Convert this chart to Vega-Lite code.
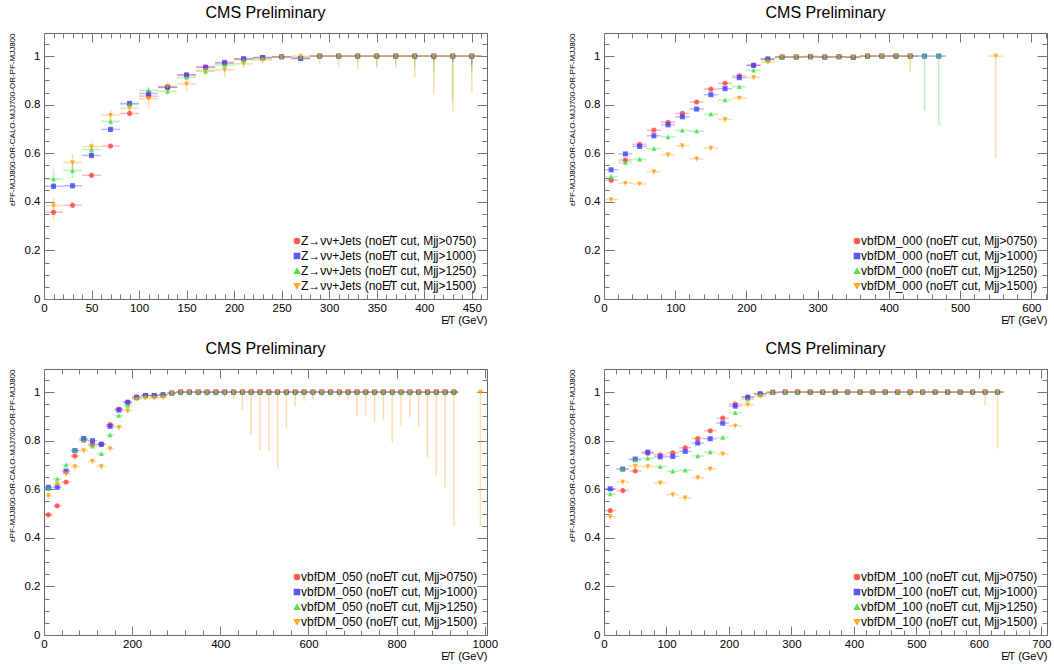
{
"$schema":"https://vega.github.io/schema/vega-lite/v6.json",
"background":"white",
"padding":{"left":7,"top":4,"right":0,"bottom":0},
"config":{
 "view":{"stroke":"#666","strokeWidth":1},
 "axis":{"domain":false,"grid":false,"labelFont":"Liberation Sans","labelFontSize":11.5,"labelColor":"#000","tickColor":"#777","tickWidth":1,"titleFont":"Liberation Sans","titleFontWeight":"normal","titleColor":"#000","labelFlush":false},
 "title":{"font":"Liberation Sans","fontSize":16,"fontWeight":"normal","color":"#000","offset":12},
 "legend":{"labelFont":"Liberation Sans","labelFontSize":12,"labelColor":"#000","symbolSize":26,"rowPadding":3,"labelOffset":-2,"symbolOpacity":0.85,"labelLimit":0,"padding":0,"orient":"none"}
},
"datasets":{
"p1":[
{"m":"0750","x":10,"x0":0,"x1":20,"y":0.357,"lo":0.345,"hi":0.369},
{"m":"1000","x":10,"x0":0,"x1":20,"y":0.464,"lo":0.452,"hi":0.476},
{"m":"1250","x":10,"x0":0,"x1":20,"y":0.494,"lo":0.453,"hi":0.535},
{"m":"1500","x":10,"x0":0,"x1":20,"y":0.384,"lo":0.325,"hi":0.415},
{"m":"0750","x":30,"x0":20,"x1":40,"y":0.386,"lo":0.376,"hi":0.396},
{"m":"1000","x":30,"x0":20,"x1":40,"y":0.466,"lo":0.455,"hi":0.477},
{"m":"1250","x":30,"x0":20,"x1":40,"y":0.529,"lo":0.498,"hi":0.56},
{"m":"1500","x":30,"x0":20,"x1":40,"y":0.562,"lo":0.528,"hi":0.597},
{"m":"0750","x":50,"x0":40,"x1":60,"y":0.509,"lo":0.499,"hi":0.519},
{"m":"1000","x":50,"x0":40,"x1":60,"y":0.591,"lo":0.579,"hi":0.603},
{"m":"1250","x":50,"x0":40,"x1":60,"y":0.615,"lo":0.595,"hi":0.635},
{"m":"1500","x":50,"x0":40,"x1":60,"y":0.627,"lo":0.601,"hi":0.651},
{"m":"0750","x":70,"x0":60,"x1":80,"y":0.630,"lo":0.621,"hi":0.639},
{"m":"1000","x":70,"x0":60,"x1":80,"y":0.698,"lo":0.687,"hi":0.709},
{"m":"1250","x":70,"x0":60,"x1":80,"y":0.731,"lo":0.715,"hi":0.747},
{"m":"1500","x":70,"x0":60,"x1":80,"y":0.757,"lo":0.731,"hi":0.779},
{"m":"0750","x":90,"x0":80,"x1":100,"y":0.764,"lo":0.755,"hi":0.773},
{"m":"1000","x":90,"x0":80,"x1":100,"y":0.805,"lo":0.795,"hi":0.815},
{"m":"1250","x":90,"x0":80,"x1":100,"y":0.801,"lo":0.787,"hi":0.815},
{"m":"1500","x":90,"x0":80,"x1":100,"y":0.785,"lo":0.765,"hi":0.805},
{"m":"0750","x":110,"x0":100,"x1":120,"y":0.835,"lo":0.826,"hi":0.844},
{"m":"1000","x":110,"x0":100,"x1":120,"y":0.846,"lo":0.836,"hi":0.856},
{"m":"1250","x":110,"x0":100,"x1":120,"y":0.859,"lo":0.845,"hi":0.873},
{"m":"1500","x":110,"x0":100,"x1":120,"y":0.824,"lo":0.789,"hi":0.844},
{"m":"0750","x":130,"x0":120,"x1":140,"y":0.871,"lo":0.863,"hi":0.879},
{"m":"1000","x":130,"x0":120,"x1":140,"y":0.872,"lo":0.863,"hi":0.881},
{"m":"1250","x":130,"x0":120,"x1":140,"y":0.855,"lo":0.84,"hi":0.87},
{"m":"1500","x":130,"x0":120,"x1":140,"y":0.875,"lo":0.855,"hi":0.896},
{"m":"0750","x":150,"x0":140,"x1":160,"y":0.923,"lo":0.916,"hi":0.93},
{"m":"1000","x":150,"x0":140,"x1":160,"y":0.922,"lo":0.914,"hi":0.93},
{"m":"1250","x":150,"x0":140,"x1":160,"y":0.912,"lo":0.9,"hi":0.924},
{"m":"1500","x":150,"x0":140,"x1":160,"y":0.885,"lo":0.855,"hi":0.909},
{"m":"0750","x":170,"x0":160,"x1":180,"y":0.956,"lo":0.95,"hi":0.962},
{"m":"1000","x":170,"x0":160,"x1":180,"y":0.953,"lo":0.946,"hi":0.96},
{"m":"1250","x":170,"x0":160,"x1":180,"y":0.937,"lo":0.926,"hi":0.948},
{"m":"1500","x":170,"x0":160,"x1":180,"y":0.941,"lo":0.92,"hi":0.958},
{"m":"0750","x":190,"x0":180,"x1":200,"y":0.970,"lo":0.964,"hi":0.976},
{"m":"1000","x":190,"x0":180,"x1":200,"y":0.974,"lo":0.968,"hi":0.98},
{"m":"1250","x":190,"x0":180,"x1":200,"y":0.963,"lo":0.953,"hi":0.973},
{"m":"1500","x":190,"x0":180,"x1":200,"y":0.944,"lo":0.912,"hi":0.964},
{"m":"0750","x":210,"x0":200,"x1":220,"y":0.988,"lo":0.984,"hi":0.992},
{"m":"1000","x":210,"x0":200,"x1":220,"y":0.989,"lo":0.985,"hi":0.993},
{"m":"1250","x":210,"x0":200,"x1":220,"y":0.985,"lo":0.978,"hi":0.991},
{"m":"1500","x":210,"x0":200,"x1":220,"y":0.968,"lo":0.95,"hi":0.98},
{"m":"0750","x":230,"x0":220,"x1":240,"y":0.994,"lo":0.991,"hi":0.997},
{"m":"1000","x":230,"x0":220,"x1":240,"y":0.994,"lo":0.991,"hi":0.997},
{"m":"1250","x":230,"x0":220,"x1":240,"y":0.990,"lo":0.984,"hi":0.995},
{"m":"1500","x":230,"x0":220,"x1":240,"y":0.984,"lo":0.97,"hi":0.993},
{"m":"0750","x":250,"x0":240,"x1":260,"y":0.997,"lo":0.994,"hi":0.999},
{"m":"1000","x":250,"x0":240,"x1":260,"y":0.997,"lo":0.994,"hi":0.999},
{"m":"1250","x":250,"x0":240,"x1":260,"y":0.997,"lo":0.992,"hi":1},
{"m":"1500","x":250,"x0":240,"x1":260,"y":0.995,"lo":0.985,"hi":0.999},
{"m":"0750","x":270,"x0":260,"x1":280,"y":0.990,"lo":0.985,"hi":0.994},
{"m":"1000","x":270,"x0":260,"x1":280,"y":0.990,"lo":0.985,"hi":0.994},
{"m":"1250","x":270,"x0":260,"x1":280,"y":0.995,"lo":0.988,"hi":0.999},
{"m":"1500","x":270,"x0":260,"x1":280,"y":1,"lo":0.99,"hi":1},
{"m":"0750","x":290,"x0":280,"x1":300,"y":1,"lo":0.996,"hi":1},
{"m":"1000","x":290,"x0":280,"x1":300,"y":1,"lo":0.995,"hi":1},
{"m":"1250","x":290,"x0":280,"x1":300,"y":1,"lo":0.99,"hi":1},
{"m":"1500","x":290,"x0":280,"x1":300,"y":1,"lo":0.967,"hi":1},
{"m":"0750","x":310,"x0":300,"x1":320,"y":1,"lo":0.995,"hi":1},
{"m":"1000","x":310,"x0":300,"x1":320,"y":1,"lo":0.994,"hi":1},
{"m":"1250","x":310,"x0":300,"x1":320,"y":1,"lo":0.985,"hi":1},
{"m":"1500","x":310,"x0":300,"x1":320,"y":1,"lo":0.956,"hi":1},
{"m":"0750","x":330,"x0":320,"x1":340,"y":1,"lo":0.994,"hi":1},
{"m":"1000","x":330,"x0":320,"x1":340,"y":1,"lo":0.993,"hi":1},
{"m":"1250","x":330,"x0":320,"x1":340,"y":1,"lo":0.975,"hi":1},
{"m":"1500","x":330,"x0":320,"x1":340,"y":1,"lo":0.944,"hi":1},
{"m":"0750","x":350,"x0":340,"x1":360,"y":1,"lo":0.992,"hi":1},
{"m":"1000","x":350,"x0":340,"x1":360,"y":1,"lo":0.99,"hi":1},
{"m":"1250","x":350,"x0":340,"x1":360,"y":1,"lo":0.96,"hi":1},
{"m":"1500","x":350,"x0":340,"x1":360,"y":1,"lo":0.95,"hi":1},
{"m":"0750","x":370,"x0":360,"x1":380,"y":1,"lo":0.99,"hi":1},
{"m":"1000","x":370,"x0":360,"x1":380,"y":1,"lo":0.99,"hi":1},
{"m":"1250","x":370,"x0":360,"x1":380,"y":1,"lo":0.97,"hi":1},
{"m":"1500","x":370,"x0":360,"x1":380,"y":1,"lo":0.952,"hi":1},
{"m":"0750","x":390,"x0":380,"x1":400,"y":1,"lo":0.99,"hi":1},
{"m":"1000","x":390,"x0":380,"x1":400,"y":1,"lo":0.985,"hi":1},
{"m":"1250","x":390,"x0":380,"x1":400,"y":1,"lo":0.95,"hi":1},
{"m":"1500","x":390,"x0":380,"x1":400,"y":1,"lo":0.912,"hi":1},
{"m":"0750","x":410,"x0":400,"x1":420,"y":1,"lo":0.985,"hi":1},
{"m":"1000","x":410,"x0":400,"x1":420,"y":1,"lo":0.98,"hi":1},
{"m":"1250","x":410,"x0":400,"x1":420,"y":1,"lo":0.93,"hi":1},
{"m":"1500","x":410,"x0":400,"x1":420,"y":1,"lo":0.841,"hi":1},
{"m":"0750","x":430,"x0":420,"x1":440,"y":1,"lo":0.98,"hi":1},
{"m":"1000","x":430,"x0":420,"x1":440,"y":1,"lo":0.975,"hi":1},
{"m":"1250","x":430,"x0":420,"x1":440,"y":1,"lo":0.81,"hi":1},
{"m":"1500","x":430,"x0":420,"x1":440,"y":1,"lo":0.77,"hi":1},
{"m":"0750","x":450,"x0":440,"x1":460,"y":1,"lo":0.97,"hi":1},
{"m":"1000","x":450,"x0":440,"x1":460,"y":1,"lo":0.96,"hi":1},
{"m":"1250","x":450,"x0":440,"x1":460,"y":1,"lo":0.93,"hi":1},
{"m":"1500","x":450,"x0":440,"x1":460,"y":1,"lo":0.849,"hi":1}
],
"p2":[
{"m":"0750","x":10,"x0":0,"x1":20,"y":0.489,"lo":0.482,"hi":0.496},
{"m":"1000","x":10,"x0":0,"x1":20,"y":0.532,"lo":0.524,"hi":0.54},
{"m":"1250","x":10,"x0":0,"x1":20,"y":0.503,"lo":0.494,"hi":0.512},
{"m":"1500","x":10,"x0":0,"x1":20,"y":0.409,"lo":0.397,"hi":0.421},
{"m":"0750","x":30,"x0":20,"x1":40,"y":0.572,"lo":0.565,"hi":0.579},
{"m":"1000","x":30,"x0":20,"x1":40,"y":0.597,"lo":0.589,"hi":0.605},
{"m":"1250","x":30,"x0":20,"x1":40,"y":0.562,"lo":0.553,"hi":0.571},
{"m":"1500","x":30,"x0":20,"x1":40,"y":0.477,"lo":0.468,"hi":0.486},
{"m":"0750","x":50,"x0":40,"x1":60,"y":0.637,"lo":0.63,"hi":0.644},
{"m":"1000","x":50,"x0":40,"x1":60,"y":0.628,"lo":0.62,"hi":0.636},
{"m":"1250","x":50,"x0":40,"x1":60,"y":0.575,"lo":0.566,"hi":0.584},
{"m":"1500","x":50,"x0":40,"x1":60,"y":0.474,"lo":0.465,"hi":0.483},
{"m":"0750","x":70,"x0":60,"x1":80,"y":0.695,"lo":0.688,"hi":0.702},
{"m":"1000","x":70,"x0":60,"x1":80,"y":0.672,"lo":0.664,"hi":0.68},
{"m":"1250","x":70,"x0":60,"x1":80,"y":0.619,"lo":0.61,"hi":0.628},
{"m":"1500","x":70,"x0":60,"x1":80,"y":0.524,"lo":0.513,"hi":0.535},
{"m":"0750","x":90,"x0":80,"x1":100,"y":0.727,"lo":0.72,"hi":0.734},
{"m":"1000","x":90,"x0":80,"x1":100,"y":0.717,"lo":0.709,"hi":0.725},
{"m":"1250","x":90,"x0":80,"x1":100,"y":0.667,"lo":0.658,"hi":0.676},
{"m":"1500","x":90,"x0":80,"x1":100,"y":0.594,"lo":0.583,"hi":0.605},
{"m":"0750","x":110,"x0":100,"x1":120,"y":0.764,"lo":0.757,"hi":0.771},
{"m":"1000","x":110,"x0":100,"x1":120,"y":0.750,"lo":0.742,"hi":0.758},
{"m":"1250","x":110,"x0":100,"x1":120,"y":0.694,"lo":0.685,"hi":0.703},
{"m":"1500","x":110,"x0":100,"x1":120,"y":0.631,"lo":0.62,"hi":0.642},
{"m":"0750","x":130,"x0":120,"x1":140,"y":0.811,"lo":0.804,"hi":0.818},
{"m":"1000","x":130,"x0":120,"x1":140,"y":0.782,"lo":0.774,"hi":0.79},
{"m":"1250","x":130,"x0":120,"x1":140,"y":0.691,"lo":0.682,"hi":0.7},
{"m":"1500","x":130,"x0":120,"x1":140,"y":0.577,"lo":0.565,"hi":0.589},
{"m":"0750","x":150,"x0":140,"x1":160,"y":0.864,"lo":0.858,"hi":0.87},
{"m":"1000","x":150,"x0":140,"x1":160,"y":0.841,"lo":0.834,"hi":0.848},
{"m":"1250","x":150,"x0":140,"x1":160,"y":0.761,"lo":0.752,"hi":0.77},
{"m":"1500","x":150,"x0":140,"x1":160,"y":0.621,"lo":0.608,"hi":0.634},
{"m":"0750","x":170,"x0":160,"x1":180,"y":0.888,"lo":0.882,"hi":0.894},
{"m":"1000","x":170,"x0":160,"x1":180,"y":0.866,"lo":0.859,"hi":0.873},
{"m":"1250","x":170,"x0":160,"x1":180,"y":0.819,"lo":0.81,"hi":0.828},
{"m":"1500","x":170,"x0":160,"x1":180,"y":0.739,"lo":0.727,"hi":0.751},
{"m":"0750","x":190,"x0":180,"x1":200,"y":0.919,"lo":0.914,"hi":0.924},
{"m":"1000","x":190,"x0":180,"x1":200,"y":0.911,"lo":0.905,"hi":0.917},
{"m":"1250","x":190,"x0":180,"x1":200,"y":0.874,"lo":0.866,"hi":0.882},
{"m":"1500","x":190,"x0":180,"x1":200,"y":0.827,"lo":0.816,"hi":0.838},
{"m":"0750","x":210,"x0":200,"x1":220,"y":0.962,"lo":0.958,"hi":0.966},
{"m":"1000","x":210,"x0":200,"x1":220,"y":0.962,"lo":0.957,"hi":0.967},
{"m":"1250","x":210,"x0":200,"x1":220,"y":0.942,"lo":0.935,"hi":0.949},
{"m":"1500","x":210,"x0":200,"x1":220,"y":0.912,"lo":0.902,"hi":0.922},
{"m":"0750","x":230,"x0":220,"x1":240,"y":0.988,"lo":0.985,"hi":0.991},
{"m":"1000","x":230,"x0":220,"x1":240,"y":0.988,"lo":0.985,"hi":0.991},
{"m":"1250","x":230,"x0":220,"x1":240,"y":0.984,"lo":0.979,"hi":0.989},
{"m":"1500","x":230,"x0":220,"x1":240,"y":0.974,"lo":0.967,"hi":0.981},
{"m":"0750","x":250,"x0":240,"x1":260,"y":0.996,"lo":0.993,"hi":0.999},
{"m":"1000","x":250,"x0":240,"x1":260,"y":0.996,"lo":0.993,"hi":0.999},
{"m":"1250","x":250,"x0":240,"x1":260,"y":0.996,"lo":0.993,"hi":0.999},
{"m":"1500","x":250,"x0":240,"x1":260,"y":0.996,"lo":0.99,"hi":1},
{"m":"0750","x":270,"x0":260,"x1":280,"y":0.996,"lo":0.993,"hi":0.999},
{"m":"1000","x":270,"x0":260,"x1":280,"y":0.996,"lo":0.993,"hi":0.999},
{"m":"1250","x":270,"x0":260,"x1":280,"y":0.996,"lo":0.993,"hi":0.999},
{"m":"1500","x":270,"x0":260,"x1":280,"y":0.996,"lo":0.99,"hi":1},
{"m":"0750","x":290,"x0":280,"x1":300,"y":0.997,"lo":0.994,"hi":1},
{"m":"1000","x":290,"x0":280,"x1":300,"y":0.997,"lo":0.994,"hi":1},
{"m":"1250","x":290,"x0":280,"x1":300,"y":0.997,"lo":0.994,"hi":1},
{"m":"1500","x":290,"x0":280,"x1":300,"y":1,"lo":0.993,"hi":1},
{"m":"0750","x":310,"x0":300,"x1":320,"y":0.996,"lo":0.993,"hi":0.999},
{"m":"1000","x":310,"x0":300,"x1":320,"y":0.996,"lo":0.993,"hi":0.999},
{"m":"1250","x":310,"x0":300,"x1":320,"y":0.996,"lo":0.993,"hi":0.999},
{"m":"1500","x":310,"x0":300,"x1":320,"y":0.997,"lo":0.992,"hi":1},
{"m":"0750","x":330,"x0":320,"x1":340,"y":0.997,"lo":0.994,"hi":1},
{"m":"1000","x":330,"x0":320,"x1":340,"y":0.997,"lo":0.994,"hi":1},
{"m":"1250","x":330,"x0":320,"x1":340,"y":0.997,"lo":0.994,"hi":1},
{"m":"1500","x":330,"x0":320,"x1":340,"y":0.997,"lo":0.99,"hi":1},
{"m":"0750","x":350,"x0":340,"x1":360,"y":0.995,"lo":0.992,"hi":0.998},
{"m":"1000","x":350,"x0":340,"x1":360,"y":0.995,"lo":0.992,"hi":0.998},
{"m":"1250","x":350,"x0":340,"x1":360,"y":0.997,"lo":0.993,"hi":1},
{"m":"1500","x":350,"x0":340,"x1":360,"y":0.997,"lo":0.99,"hi":1},
{"m":"0750","x":370,"x0":360,"x1":380,"y":1,"lo":0.995,"hi":1},
{"m":"1000","x":370,"x0":360,"x1":380,"y":1,"lo":0.995,"hi":1},
{"m":"1250","x":370,"x0":360,"x1":380,"y":1,"lo":0.995,"hi":1},
{"m":"1500","x":370,"x0":360,"x1":380,"y":1,"lo":0.99,"hi":1},
{"m":"0750","x":390,"x0":380,"x1":400,"y":1,"lo":0.995,"hi":1},
{"m":"1000","x":390,"x0":380,"x1":400,"y":1,"lo":0.995,"hi":1},
{"m":"1250","x":390,"x0":380,"x1":400,"y":1,"lo":0.995,"hi":1},
{"m":"1500","x":390,"x0":380,"x1":400,"y":1,"lo":0.99,"hi":1},
{"m":"0750","x":410,"x0":400,"x1":420,"y":1,"lo":0.995,"hi":1},
{"m":"1000","x":410,"x0":400,"x1":420,"y":1,"lo":0.995,"hi":1},
{"m":"1250","x":410,"x0":400,"x1":420,"y":1,"lo":0.995,"hi":1},
{"m":"1500","x":410,"x0":400,"x1":420,"y":1,"lo":0.985,"hi":1},
{"m":"0750","x":430,"x0":420,"x1":440,"y":1,"lo":0.995,"hi":1},
{"m":"1000","x":430,"x0":420,"x1":440,"y":1,"lo":0.995,"hi":1},
{"m":"1250","x":430,"x0":420,"x1":440,"y":1,"lo":0.995,"hi":1},
{"m":"1500","x":430,"x0":420,"x1":440,"y":1,"lo":0.935,"hi":1},
{"m":"1000","x":450,"x0":440,"x1":460,"y":1,"lo":0.99,"hi":1},
{"m":"1250","x":450,"x0":440,"x1":460,"y":1,"lo":0.774,"hi":1},
{"m":"1000","x":470,"x0":460,"x1":480,"y":1,"lo":0.99,"hi":1},
{"m":"1250","x":470,"x0":460,"x1":480,"y":1,"lo":0.712,"hi":1},
{"m":"1500","x":550,"x0":540,"x1":560,"y":1,"lo":0.58,"hi":1}
],
"p3":[
{"m":"0750","x":10,"x0":0,"x1":20,"y":0.495,"lo":0.488,"hi":0.502},
{"m":"1000","x":10,"x0":0,"x1":20,"y":0.608,"lo":0.6,"hi":0.616},
{"m":"1250","x":10,"x0":0,"x1":20,"y":0.602,"lo":0.593,"hi":0.611},
{"m":"1500","x":10,"x0":0,"x1":20,"y":0.573,"lo":0.56,"hi":0.586},
{"m":"0750","x":30,"x0":20,"x1":40,"y":0.532,"lo":0.525,"hi":0.539},
{"m":"1000","x":30,"x0":20,"x1":40,"y":0.608,"lo":0.6,"hi":0.616},
{"m":"1250","x":30,"x0":20,"x1":40,"y":0.642,"lo":0.633,"hi":0.651},
{"m":"1500","x":30,"x0":20,"x1":40,"y":0.621,"lo":0.609,"hi":0.633},
{"m":"0750","x":50,"x0":40,"x1":60,"y":0.630,"lo":0.623,"hi":0.637},
{"m":"1000","x":50,"x0":40,"x1":60,"y":0.675,"lo":0.667,"hi":0.683},
{"m":"1250","x":50,"x0":40,"x1":60,"y":0.700,"lo":0.691,"hi":0.709},
{"m":"1500","x":50,"x0":40,"x1":60,"y":0.664,"lo":0.652,"hi":0.676},
{"m":"0750","x":70,"x0":60,"x1":80,"y":0.737,"lo":0.73,"hi":0.744},
{"m":"1000","x":70,"x0":60,"x1":80,"y":0.759,"lo":0.751,"hi":0.767},
{"m":"1250","x":70,"x0":60,"x1":80,"y":0.759,"lo":0.75,"hi":0.768},
{"m":"1500","x":70,"x0":60,"x1":80,"y":0.693,"lo":0.681,"hi":0.705},
{"m":"0750","x":90,"x0":80,"x1":100,"y":0.802,"lo":0.795,"hi":0.809},
{"m":"1000","x":90,"x0":80,"x1":100,"y":0.809,"lo":0.801,"hi":0.817},
{"m":"1250","x":90,"x0":80,"x1":100,"y":0.803,"lo":0.794,"hi":0.812},
{"m":"1500","x":90,"x0":80,"x1":100,"y":0.759,"lo":0.747,"hi":0.771},
{"m":"0750","x":110,"x0":100,"x1":120,"y":0.785,"lo":0.778,"hi":0.792},
{"m":"1000","x":110,"x0":100,"x1":120,"y":0.800,"lo":0.792,"hi":0.808},
{"m":"1250","x":110,"x0":100,"x1":120,"y":0.777,"lo":0.768,"hi":0.786},
{"m":"1500","x":110,"x0":100,"x1":120,"y":0.715,"lo":0.703,"hi":0.727},
{"m":"0750","x":130,"x0":120,"x1":140,"y":0.785,"lo":0.778,"hi":0.792},
{"m":"1000","x":130,"x0":120,"x1":140,"y":0.785,"lo":0.777,"hi":0.793},
{"m":"1250","x":130,"x0":120,"x1":140,"y":0.746,"lo":0.737,"hi":0.755},
{"m":"1500","x":130,"x0":120,"x1":140,"y":0.694,"lo":0.682,"hi":0.706},
{"m":"0750","x":150,"x0":140,"x1":160,"y":0.866,"lo":0.86,"hi":0.872},
{"m":"1000","x":150,"x0":140,"x1":160,"y":0.859,"lo":0.852,"hi":0.866},
{"m":"1250","x":150,"x0":140,"x1":160,"y":0.823,"lo":0.814,"hi":0.832},
{"m":"1500","x":150,"x0":140,"x1":160,"y":0.767,"lo":0.755,"hi":0.779},
{"m":"0750","x":170,"x0":160,"x1":180,"y":0.930,"lo":0.925,"hi":0.935},
{"m":"1000","x":170,"x0":160,"x1":180,"y":0.926,"lo":0.92,"hi":0.932},
{"m":"1250","x":170,"x0":160,"x1":180,"y":0.903,"lo":0.895,"hi":0.911},
{"m":"1500","x":170,"x0":160,"x1":180,"y":0.855,"lo":0.844,"hi":0.866},
{"m":"0750","x":190,"x0":180,"x1":200,"y":0.958,"lo":0.954,"hi":0.962},
{"m":"1000","x":190,"x0":180,"x1":200,"y":0.958,"lo":0.953,"hi":0.963},
{"m":"1250","x":190,"x0":180,"x1":200,"y":0.945,"lo":0.938,"hi":0.952},
{"m":"1500","x":190,"x0":180,"x1":200,"y":0.923,"lo":0.913,"hi":0.933},
{"m":"0750","x":210,"x0":200,"x1":220,"y":0.979,"lo":0.976,"hi":0.982},
{"m":"1000","x":210,"x0":200,"x1":220,"y":0.979,"lo":0.975,"hi":0.983},
{"m":"1250","x":210,"x0":200,"x1":220,"y":0.975,"lo":0.969,"hi":0.981},
{"m":"1500","x":210,"x0":200,"x1":220,"y":0.970,"lo":0.962,"hi":0.978},
{"m":"0750","x":230,"x0":220,"x1":240,"y":0.986,"lo":0.983,"hi":0.989},
{"m":"1000","x":230,"x0":220,"x1":240,"y":0.986,"lo":0.982,"hi":0.99},
{"m":"1250","x":230,"x0":220,"x1":240,"y":0.985,"lo":0.979,"hi":0.99},
{"m":"1500","x":230,"x0":220,"x1":240,"y":0.974,"lo":0.966,"hi":0.982},
{"m":"0750","x":250,"x0":240,"x1":260,"y":0.986,"lo":0.983,"hi":0.989},
{"m":"1000","x":250,"x0":240,"x1":260,"y":0.986,"lo":0.982,"hi":0.99},
{"m":"1250","x":250,"x0":240,"x1":260,"y":0.985,"lo":0.979,"hi":0.99},
{"m":"1500","x":250,"x0":240,"x1":260,"y":0.975,"lo":0.966,"hi":0.983},
{"m":"0750","x":270,"x0":260,"x1":280,"y":0.989,"lo":0.986,"hi":0.992},
{"m":"1000","x":270,"x0":260,"x1":280,"y":0.989,"lo":0.985,"hi":0.993},
{"m":"1250","x":270,"x0":260,"x1":280,"y":0.988,"lo":0.982,"hi":0.993},
{"m":"1500","x":270,"x0":260,"x1":280,"y":0.978,"lo":0.969,"hi":0.986},
{"m":"0750","x":290,"x0":280,"x1":300,"y":0.996,"lo":0.993,"hi":0.999},
{"m":"1000","x":290,"x0":280,"x1":300,"y":0.996,"lo":0.992,"hi":0.999},
{"m":"1250","x":290,"x0":280,"x1":300,"y":0.996,"lo":0.991,"hi":1},
{"m":"1500","x":290,"x0":280,"x1":300,"y":0.995,"lo":0.987,"hi":1},
{"m":"0750","x":310,"x0":300,"x1":320,"y":1,"lo":0.995,"hi":1},{"m":"1000","x":310,"x0":300,"x1":320,"y":1,"lo":0.99,"hi":1},{"m":"1250","x":310,"x0":300,"x1":320,"y":1,"lo":0.985,"hi":1},{"m":"1500","x":310,"x0":300,"x1":320,"y":1,"lo":0.99,"hi":1},
{"m":"0750","x":330,"x0":320,"x1":340,"y":1,"lo":0.995,"hi":1},{"m":"1000","x":330,"x0":320,"x1":340,"y":1,"lo":0.99,"hi":1},{"m":"1250","x":330,"x0":320,"x1":340,"y":1,"lo":0.985,"hi":1},{"m":"1500","x":330,"x0":320,"x1":340,"y":1,"lo":0.99,"hi":1},
{"m":"0750","x":350,"x0":340,"x1":360,"y":1,"lo":0.995,"hi":1},{"m":"1000","x":350,"x0":340,"x1":360,"y":1,"lo":0.99,"hi":1},{"m":"1250","x":350,"x0":340,"x1":360,"y":1,"lo":0.985,"hi":1},{"m":"1500","x":350,"x0":340,"x1":360,"y":1,"lo":0.99,"hi":1},
{"m":"0750","x":370,"x0":360,"x1":380,"y":1,"lo":0.995,"hi":1},{"m":"1000","x":370,"x0":360,"x1":380,"y":1,"lo":0.99,"hi":1},{"m":"1250","x":370,"x0":360,"x1":380,"y":1,"lo":0.985,"hi":1},{"m":"1500","x":370,"x0":360,"x1":380,"y":1,"lo":0.985,"hi":1},
{"m":"0750","x":390,"x0":380,"x1":400,"y":1,"lo":0.995,"hi":1},{"m":"1000","x":390,"x0":380,"x1":400,"y":1,"lo":0.99,"hi":1},{"m":"1250","x":390,"x0":380,"x1":400,"y":1,"lo":0.985,"hi":1},{"m":"1500","x":390,"x0":380,"x1":400,"y":1,"lo":0.985,"hi":1},
{"m":"0750","x":410,"x0":400,"x1":420,"y":1,"lo":0.995,"hi":1},{"m":"1000","x":410,"x0":400,"x1":420,"y":1,"lo":0.99,"hi":1},{"m":"1250","x":410,"x0":400,"x1":420,"y":1,"lo":0.985,"hi":1},{"m":"1500","x":410,"x0":400,"x1":420,"y":1,"lo":0.98,"hi":1},
{"m":"0750","x":430,"x0":420,"x1":440,"y":1,"lo":0.995,"hi":1},{"m":"1000","x":430,"x0":420,"x1":440,"y":1,"lo":0.99,"hi":1},{"m":"1250","x":430,"x0":420,"x1":440,"y":1,"lo":0.985,"hi":1},{"m":"1500","x":430,"x0":420,"x1":440,"y":1,"lo":0.971,"hi":1},
{"m":"0750","x":450,"x0":440,"x1":460,"y":1,"lo":0.995,"hi":1},{"m":"1000","x":450,"x0":440,"x1":460,"y":1,"lo":0.99,"hi":1},{"m":"1250","x":450,"x0":440,"x1":460,"y":1,"lo":0.985,"hi":1},{"m":"1500","x":450,"x0":440,"x1":460,"y":1,"lo":0.925,"hi":1},
{"m":"0750","x":470,"x0":460,"x1":480,"y":1,"lo":0.995,"hi":1},{"m":"1000","x":470,"x0":460,"x1":480,"y":1,"lo":0.99,"hi":1},{"m":"1250","x":470,"x0":460,"x1":480,"y":1,"lo":0.985,"hi":1},{"m":"1500","x":470,"x0":460,"x1":480,"y":1,"lo":0.824,"hi":1},
{"m":"0750","x":490,"x0":480,"x1":500,"y":1,"lo":0.995,"hi":1},{"m":"1000","x":490,"x0":480,"x1":500,"y":1,"lo":0.99,"hi":1},{"m":"1250","x":490,"x0":480,"x1":500,"y":1,"lo":0.985,"hi":1},{"m":"1500","x":490,"x0":480,"x1":500,"y":1,"lo":0.76,"hi":1},
{"m":"0750","x":510,"x0":500,"x1":520,"y":1,"lo":0.995,"hi":1},{"m":"1000","x":510,"x0":500,"x1":520,"y":1,"lo":0.99,"hi":1},{"m":"1250","x":510,"x0":500,"x1":520,"y":1,"lo":0.985,"hi":1},{"m":"1500","x":510,"x0":500,"x1":520,"y":1,"lo":0.76,"hi":1},
{"m":"0750","x":530,"x0":520,"x1":540,"y":1,"lo":0.995,"hi":1},{"m":"1000","x":530,"x0":520,"x1":540,"y":1,"lo":0.99,"hi":1},{"m":"1250","x":530,"x0":520,"x1":540,"y":1,"lo":0.985,"hi":1},{"m":"1500","x":530,"x0":520,"x1":540,"y":1,"lo":0.686,"hi":1},
{"m":"0750","x":550,"x0":540,"x1":560,"y":1,"lo":0.995,"hi":1},{"m":"1000","x":550,"x0":540,"x1":560,"y":1,"lo":0.99,"hi":1},{"m":"1250","x":550,"x0":540,"x1":560,"y":1,"lo":0.985,"hi":1},{"m":"1500","x":550,"x0":540,"x1":560,"y":1,"lo":0.85,"hi":1},
{"m":"0750","x":570,"x0":560,"x1":580,"y":1,"lo":0.995,"hi":1},{"m":"1000","x":570,"x0":560,"x1":580,"y":1,"lo":0.99,"hi":1},{"m":"1250","x":570,"x0":560,"x1":580,"y":1,"lo":0.985,"hi":1},{"m":"1500","x":570,"x0":560,"x1":580,"y":1,"lo":0.941,"hi":1},
{"m":"0750","x":590,"x0":580,"x1":600,"y":1,"lo":0.995,"hi":1},{"m":"1000","x":590,"x0":580,"x1":600,"y":1,"lo":0.99,"hi":1},{"m":"1250","x":590,"x0":580,"x1":600,"y":1,"lo":0.985,"hi":1},{"m":"1500","x":590,"x0":580,"x1":600,"y":1,"lo":0.962,"hi":1},
{"m":"0750","x":610,"x0":600,"x1":620,"y":1,"lo":0.995,"hi":1},{"m":"1000","x":610,"x0":600,"x1":620,"y":1,"lo":0.99,"hi":1},{"m":"1250","x":610,"x0":600,"x1":620,"y":1,"lo":0.985,"hi":1},{"m":"1500","x":610,"x0":600,"x1":620,"y":1,"lo":0.972,"hi":1},
{"m":"0750","x":630,"x0":620,"x1":640,"y":1,"lo":0.995,"hi":1},{"m":"1000","x":630,"x0":620,"x1":640,"y":1,"lo":0.99,"hi":1},{"m":"1250","x":630,"x0":620,"x1":640,"y":1,"lo":0.985,"hi":1},{"m":"1500","x":630,"x0":620,"x1":640,"y":1,"lo":0.982,"hi":1},
{"m":"0750","x":650,"x0":640,"x1":660,"y":1,"lo":0.995,"hi":1},{"m":"1000","x":650,"x0":640,"x1":660,"y":1,"lo":0.99,"hi":1},{"m":"1250","x":650,"x0":640,"x1":660,"y":1,"lo":0.985,"hi":1},{"m":"1500","x":650,"x0":640,"x1":660,"y":1,"lo":0.982,"hi":1},
{"m":"0750","x":670,"x0":660,"x1":680,"y":1,"lo":0.995,"hi":1},{"m":"1000","x":670,"x0":660,"x1":680,"y":1,"lo":0.99,"hi":1},{"m":"1250","x":670,"x0":660,"x1":680,"y":1,"lo":0.985,"hi":1},{"m":"1500","x":670,"x0":660,"x1":680,"y":1,"lo":0.978,"hi":1},
{"m":"0750","x":690,"x0":680,"x1":700,"y":1,"lo":0.995,"hi":1},{"m":"1000","x":690,"x0":680,"x1":700,"y":1,"lo":0.99,"hi":1},{"m":"1250","x":690,"x0":680,"x1":700,"y":1,"lo":0.985,"hi":1},{"m":"1500","x":690,"x0":680,"x1":700,"y":1,"lo":0.966,"hi":1},
{"m":"0750","x":710,"x0":700,"x1":720,"y":1,"lo":0.995,"hi":1},{"m":"1000","x":710,"x0":700,"x1":720,"y":1,"lo":0.99,"hi":1},{"m":"1250","x":710,"x0":700,"x1":720,"y":1,"lo":0.985,"hi":1},{"m":"1500","x":710,"x0":700,"x1":720,"y":1,"lo":0.901,"hi":1},
{"m":"0750","x":730,"x0":720,"x1":740,"y":1,"lo":0.995,"hi":1},{"m":"1000","x":730,"x0":720,"x1":740,"y":1,"lo":0.99,"hi":1},{"m":"1250","x":730,"x0":720,"x1":740,"y":1,"lo":0.985,"hi":1},{"m":"1500","x":730,"x0":720,"x1":740,"y":1,"lo":0.9,"hi":1},
{"m":"0750","x":750,"x0":740,"x1":760,"y":1,"lo":0.995,"hi":1},{"m":"1000","x":750,"x0":740,"x1":760,"y":1,"lo":0.99,"hi":1},{"m":"1250","x":750,"x0":740,"x1":760,"y":1,"lo":0.985,"hi":1},{"m":"1500","x":750,"x0":740,"x1":760,"y":1,"lo":0.874,"hi":1},
{"m":"0750","x":770,"x0":760,"x1":780,"y":1,"lo":0.995,"hi":1},{"m":"1000","x":770,"x0":760,"x1":780,"y":1,"lo":0.99,"hi":1},{"m":"1250","x":770,"x0":760,"x1":780,"y":1,"lo":0.985,"hi":1},{"m":"1500","x":770,"x0":760,"x1":780,"y":1,"lo":0.886,"hi":1},
{"m":"0750","x":790,"x0":780,"x1":800,"y":1,"lo":0.995,"hi":1},{"m":"1000","x":790,"x0":780,"x1":800,"y":1,"lo":0.99,"hi":1},{"m":"1250","x":790,"x0":780,"x1":800,"y":1,"lo":0.985,"hi":1},{"m":"1500","x":790,"x0":780,"x1":800,"y":1,"lo":0.793,"hi":1},
{"m":"0750","x":810,"x0":800,"x1":820,"y":1,"lo":0.995,"hi":1},{"m":"1000","x":810,"x0":800,"x1":820,"y":1,"lo":0.99,"hi":1},{"m":"1250","x":810,"x0":800,"x1":820,"y":1,"lo":0.985,"hi":1},{"m":"1500","x":810,"x0":800,"x1":820,"y":1,"lo":0.863,"hi":1},
{"m":"0750","x":830,"x0":820,"x1":840,"y":1,"lo":0.995,"hi":1},{"m":"1000","x":830,"x0":820,"x1":840,"y":1,"lo":0.99,"hi":1},{"m":"1250","x":830,"x0":820,"x1":840,"y":1,"lo":0.985,"hi":1},{"m":"1500","x":830,"x0":820,"x1":840,"y":1,"lo":0.896,"hi":1},
{"m":"0750","x":850,"x0":840,"x1":860,"y":1,"lo":0.995,"hi":1},{"m":"1000","x":850,"x0":840,"x1":860,"y":1,"lo":0.99,"hi":1},{"m":"1250","x":850,"x0":840,"x1":860,"y":1,"lo":0.985,"hi":1},{"m":"1500","x":850,"x0":840,"x1":860,"y":1,"lo":0.859,"hi":1},
{"m":"0750","x":870,"x0":860,"x1":880,"y":1,"lo":0.995,"hi":1},{"m":"1000","x":870,"x0":860,"x1":880,"y":1,"lo":0.99,"hi":1},{"m":"1250","x":870,"x0":860,"x1":880,"y":1,"lo":0.985,"hi":1},{"m":"1500","x":870,"x0":860,"x1":880,"y":1,"lo":0.728,"hi":1},
{"m":"0750","x":890,"x0":880,"x1":900,"y":1,"lo":0.995,"hi":1},{"m":"1000","x":890,"x0":880,"x1":900,"y":1,"lo":0.99,"hi":1},{"m":"1250","x":890,"x0":880,"x1":900,"y":1,"lo":0.985,"hi":1},{"m":"1500","x":890,"x0":880,"x1":900,"y":1,"lo":0.658,"hi":1},
{"m":"0750","x":910,"x0":900,"x1":920,"y":1,"lo":0.995,"hi":1},{"m":"1000","x":910,"x0":900,"x1":920,"y":1,"lo":0.99,"hi":1},{"m":"1250","x":910,"x0":900,"x1":920,"y":1,"lo":0.985,"hi":1},{"m":"1500","x":910,"x0":900,"x1":920,"y":1,"lo":0.608,"hi":1},
{"m":"0750","x":930,"x0":920,"x1":940,"y":1,"lo":0.995,"hi":1},{"m":"1000","x":930,"x0":920,"x1":940,"y":1,"lo":0.99,"hi":1},{"m":"1250","x":930,"x0":920,"x1":940,"y":1,"lo":0.985,"hi":1},{"m":"1500","x":930,"x0":920,"x1":940,"y":1,"lo":0.447,"hi":1},
{"m":"1500","x":990,"x0":980,"x1":1000,"y":1,"lo":0.447,"hi":1}
],
"p4":[
{"m":"0750","x":10,"x0":0,"x1":20,"y":0.512,"lo":0.505,"hi":0.519},
{"m":"1000","x":10,"x0":0,"x1":20,"y":0.602,"lo":0.594,"hi":0.61},
{"m":"1250","x":10,"x0":0,"x1":20,"y":0.580,"lo":0.571,"hi":0.589},
{"m":"1500","x":10,"x0":0,"x1":20,"y":0.487,"lo":0.476,"hi":0.498},
{"m":"0750","x":30,"x0":20,"x1":40,"y":0.595,"lo":0.588,"hi":0.602},
{"m":"1000","x":30,"x0":20,"x1":40,"y":0.683,"lo":0.675,"hi":0.691},
{"m":"1250","x":30,"x0":20,"x1":40,"y":0.683,"lo":0.674,"hi":0.692},
{"m":"1500","x":30,"x0":20,"x1":40,"y":0.630,"lo":0.619,"hi":0.641},
{"m":"0750","x":50,"x0":40,"x1":60,"y":0.675,"lo":0.668,"hi":0.682},
{"m":"1000","x":50,"x0":40,"x1":60,"y":0.724,"lo":0.716,"hi":0.732},
{"m":"1250","x":50,"x0":40,"x1":60,"y":0.720,"lo":0.711,"hi":0.729},
{"m":"1500","x":50,"x0":40,"x1":60,"y":0.695,"lo":0.684,"hi":0.706},
{"m":"0750","x":70,"x0":60,"x1":80,"y":0.748,"lo":0.741,"hi":0.755},
{"m":"1000","x":70,"x0":60,"x1":80,"y":0.753,"lo":0.745,"hi":0.761},
{"m":"1250","x":70,"x0":60,"x1":80,"y":0.727,"lo":0.718,"hi":0.736},
{"m":"1500","x":70,"x0":60,"x1":80,"y":0.694,"lo":0.683,"hi":0.705},
{"m":"0750","x":90,"x0":80,"x1":100,"y":0.742,"lo":0.735,"hi":0.749},
{"m":"1000","x":90,"x0":80,"x1":100,"y":0.733,"lo":0.725,"hi":0.741},
{"m":"1250","x":90,"x0":80,"x1":100,"y":0.693,"lo":0.684,"hi":0.702},
{"m":"1500","x":90,"x0":80,"x1":100,"y":0.626,"lo":0.615,"hi":0.637},
{"m":"0750","x":110,"x0":100,"x1":120,"y":0.750,"lo":0.743,"hi":0.757},
{"m":"1000","x":110,"x0":100,"x1":120,"y":0.735,"lo":0.727,"hi":0.743},
{"m":"1250","x":110,"x0":100,"x1":120,"y":0.674,"lo":0.665,"hi":0.683},
{"m":"1500","x":110,"x0":100,"x1":120,"y":0.578,"lo":0.566,"hi":0.59},
{"m":"0750","x":130,"x0":120,"x1":140,"y":0.771,"lo":0.764,"hi":0.778},
{"m":"1000","x":130,"x0":120,"x1":140,"y":0.756,"lo":0.748,"hi":0.764},
{"m":"1250","x":130,"x0":120,"x1":140,"y":0.678,"lo":0.669,"hi":0.687},
{"m":"1500","x":130,"x0":120,"x1":140,"y":0.565,"lo":0.553,"hi":0.577},
{"m":"0750","x":150,"x0":140,"x1":160,"y":0.809,"lo":0.802,"hi":0.816},
{"m":"1000","x":150,"x0":140,"x1":160,"y":0.790,"lo":0.782,"hi":0.798},
{"m":"1250","x":150,"x0":140,"x1":160,"y":0.737,"lo":0.728,"hi":0.746},
{"m":"1500","x":150,"x0":140,"x1":160,"y":0.647,"lo":0.635,"hi":0.659},
{"m":"0750","x":170,"x0":160,"x1":180,"y":0.841,"lo":0.835,"hi":0.847},
{"m":"1000","x":170,"x0":160,"x1":180,"y":0.808,"lo":0.8,"hi":0.816},
{"m":"1250","x":170,"x0":160,"x1":180,"y":0.753,"lo":0.744,"hi":0.762},
{"m":"1500","x":170,"x0":160,"x1":180,"y":0.684,"lo":0.672,"hi":0.696},
{"m":"0750","x":190,"x0":180,"x1":200,"y":0.893,"lo":0.888,"hi":0.898},
{"m":"1000","x":190,"x0":180,"x1":200,"y":0.872,"lo":0.865,"hi":0.879},
{"m":"1250","x":190,"x0":180,"x1":200,"y":0.813,"lo":0.805,"hi":0.821},
{"m":"1500","x":190,"x0":180,"x1":200,"y":0.745,"lo":0.734,"hi":0.756},
{"m":"0750","x":210,"x0":200,"x1":220,"y":0.951,"lo":0.947,"hi":0.955},
{"m":"1000","x":210,"x0":200,"x1":220,"y":0.942,"lo":0.937,"hi":0.947},
{"m":"1250","x":210,"x0":200,"x1":220,"y":0.915,"lo":0.908,"hi":0.922},
{"m":"1500","x":210,"x0":200,"x1":220,"y":0.861,"lo":0.851,"hi":0.871},
{"m":"0750","x":230,"x0":220,"x1":240,"y":0.979,"lo":0.976,"hi":0.982},
{"m":"1000","x":230,"x0":220,"x1":240,"y":0.979,"lo":0.975,"hi":0.983},
{"m":"1250","x":230,"x0":220,"x1":240,"y":0.970,"lo":0.965,"hi":0.975},
{"m":"1500","x":230,"x0":220,"x1":240,"y":0.948,"lo":0.94,"hi":0.956},
{"m":"0750","x":250,"x0":240,"x1":260,"y":0.993,"lo":0.99,"hi":0.996},
{"m":"1000","x":250,"x0":240,"x1":260,"y":0.993,"lo":0.99,"hi":0.996},
{"m":"1250","x":250,"x0":240,"x1":260,"y":0.990,"lo":0.986,"hi":0.994},
{"m":"1500","x":250,"x0":240,"x1":260,"y":0.982,"lo":0.976,"hi":0.988},
{"m":"0750","x":270,"x0":260,"x1":280,"y":0.999,"lo":0.997,"hi":1},
{"m":"1000","x":270,"x0":260,"x1":280,"y":0.999,"lo":0.996,"hi":1},
{"m":"1250","x":270,"x0":260,"x1":280,"y":0.998,"lo":0.995,"hi":1},
{"m":"1500","x":270,"x0":260,"x1":280,"y":0.997,"lo":0.992,"hi":1},
{"m":"0750","x":290,"x0":280,"x1":300,"y":1,"lo":0.995,"hi":1},{"m":"1000","x":290,"x0":280,"x1":300,"y":1,"lo":0.993,"hi":1},{"m":"1250","x":290,"x0":280,"x1":300,"y":1,"lo":0.99,"hi":1},{"m":"1500","x":290,"x0":280,"x1":300,"y":1,"lo":0.995,"hi":1},
{"m":"0750","x":310,"x0":300,"x1":320,"y":1,"lo":0.995,"hi":1},{"m":"1000","x":310,"x0":300,"x1":320,"y":1,"lo":0.993,"hi":1},{"m":"1250","x":310,"x0":300,"x1":320,"y":1,"lo":0.99,"hi":1},{"m":"1500","x":310,"x0":300,"x1":320,"y":1,"lo":0.993,"hi":1},
{"m":"0750","x":330,"x0":320,"x1":340,"y":1,"lo":0.995,"hi":1},{"m":"1000","x":330,"x0":320,"x1":340,"y":1,"lo":0.993,"hi":1},{"m":"1250","x":330,"x0":320,"x1":340,"y":1,"lo":0.99,"hi":1},{"m":"1500","x":330,"x0":320,"x1":340,"y":1,"lo":0.99,"hi":1},
{"m":"0750","x":350,"x0":340,"x1":360,"y":1,"lo":0.995,"hi":1},{"m":"1000","x":350,"x0":340,"x1":360,"y":1,"lo":0.993,"hi":1},{"m":"1250","x":350,"x0":340,"x1":360,"y":1,"lo":0.99,"hi":1},{"m":"1500","x":350,"x0":340,"x1":360,"y":1,"lo":0.99,"hi":1},
{"m":"0750","x":370,"x0":360,"x1":380,"y":1,"lo":0.995,"hi":1},{"m":"1000","x":370,"x0":360,"x1":380,"y":1,"lo":0.993,"hi":1},{"m":"1250","x":370,"x0":360,"x1":380,"y":1,"lo":0.99,"hi":1},{"m":"1500","x":370,"x0":360,"x1":380,"y":1,"lo":0.99,"hi":1},
{"m":"0750","x":390,"x0":380,"x1":400,"y":1,"lo":0.995,"hi":1},{"m":"1000","x":390,"x0":380,"x1":400,"y":1,"lo":0.993,"hi":1},{"m":"1250","x":390,"x0":380,"x1":400,"y":1,"lo":0.99,"hi":1},{"m":"1500","x":390,"x0":380,"x1":400,"y":1,"lo":0.99,"hi":1},
{"m":"0750","x":410,"x0":400,"x1":420,"y":1,"lo":0.995,"hi":1},{"m":"1000","x":410,"x0":400,"x1":420,"y":1,"lo":0.993,"hi":1},{"m":"1250","x":410,"x0":400,"x1":420,"y":1,"lo":0.99,"hi":1},{"m":"1500","x":410,"x0":400,"x1":420,"y":1,"lo":0.99,"hi":1},
{"m":"0750","x":430,"x0":420,"x1":440,"y":1,"lo":0.995,"hi":1},{"m":"1000","x":430,"x0":420,"x1":440,"y":1,"lo":0.993,"hi":1},{"m":"1250","x":430,"x0":420,"x1":440,"y":1,"lo":0.99,"hi":1},{"m":"1500","x":430,"x0":420,"x1":440,"y":1,"lo":0.99,"hi":1},
{"m":"0750","x":450,"x0":440,"x1":460,"y":1,"lo":0.995,"hi":1},{"m":"1000","x":450,"x0":440,"x1":460,"y":1,"lo":0.993,"hi":1},{"m":"1250","x":450,"x0":440,"x1":460,"y":1,"lo":0.99,"hi":1},{"m":"1500","x":450,"x0":440,"x1":460,"y":1,"lo":0.99,"hi":1},
{"m":"0750","x":470,"x0":460,"x1":480,"y":1,"lo":0.995,"hi":1},{"m":"1000","x":470,"x0":460,"x1":480,"y":1,"lo":0.993,"hi":1},{"m":"1250","x":470,"x0":460,"x1":480,"y":1,"lo":0.99,"hi":1},{"m":"1500","x":470,"x0":460,"x1":480,"y":1,"lo":0.986,"hi":1},
{"m":"0750","x":490,"x0":480,"x1":500,"y":1,"lo":0.995,"hi":1},{"m":"1000","x":490,"x0":480,"x1":500,"y":1,"lo":0.993,"hi":1},{"m":"1250","x":490,"x0":480,"x1":500,"y":1,"lo":0.99,"hi":1},{"m":"1500","x":490,"x0":480,"x1":500,"y":1,"lo":0.973,"hi":1},
{"m":"0750","x":510,"x0":500,"x1":520,"y":1,"lo":0.995,"hi":1},{"m":"1000","x":510,"x0":500,"x1":520,"y":1,"lo":0.993,"hi":1},{"m":"1250","x":510,"x0":500,"x1":520,"y":1,"lo":0.99,"hi":1},{"m":"1500","x":510,"x0":500,"x1":520,"y":1,"lo":0.982,"hi":1},
{"m":"0750","x":530,"x0":520,"x1":540,"y":1,"lo":0.995,"hi":1},{"m":"1000","x":530,"x0":520,"x1":540,"y":1,"lo":0.993,"hi":1},{"m":"1250","x":530,"x0":520,"x1":540,"y":1,"lo":0.99,"hi":1},{"m":"1500","x":530,"x0":520,"x1":540,"y":1,"lo":0.99,"hi":1},
{"m":"0750","x":550,"x0":540,"x1":560,"y":1,"lo":0.995,"hi":1},{"m":"1000","x":550,"x0":540,"x1":560,"y":1,"lo":0.993,"hi":1},{"m":"1250","x":550,"x0":540,"x1":560,"y":1,"lo":0.99,"hi":1},{"m":"1500","x":550,"x0":540,"x1":560,"y":1,"lo":0.995,"hi":1},
{"m":"0750","x":570,"x0":560,"x1":580,"y":1,"lo":0.995,"hi":1},{"m":"1000","x":570,"x0":560,"x1":580,"y":1,"lo":0.993,"hi":1},{"m":"1250","x":570,"x0":560,"x1":580,"y":1,"lo":0.99,"hi":1},{"m":"1500","x":570,"x0":560,"x1":580,"y":1,"lo":0.995,"hi":1},
{"m":"0750","x":590,"x0":580,"x1":600,"y":1,"lo":0.995,"hi":1},{"m":"1000","x":590,"x0":580,"x1":600,"y":1,"lo":0.993,"hi":1},{"m":"1250","x":590,"x0":580,"x1":600,"y":1,"lo":0.99,"hi":1},{"m":"1500","x":590,"x0":580,"x1":600,"y":1,"lo":0.978,"hi":1},
{"m":"0750","x":610,"x0":600,"x1":620,"y":1,"lo":0.995,"hi":1},{"m":"1000","x":610,"x0":600,"x1":620,"y":1,"lo":0.993,"hi":1},{"m":"1250","x":610,"x0":600,"x1":620,"y":1,"lo":0.99,"hi":1},{"m":"1500","x":610,"x0":600,"x1":620,"y":1,"lo":0.945,"hi":1},
{"m":"0750","x":630,"x0":620,"x1":640,"y":1,"lo":0.995,"hi":1},{"m":"1000","x":630,"x0":620,"x1":640,"y":1,"lo":0.993,"hi":1},{"m":"1250","x":630,"x0":620,"x1":640,"y":1,"lo":0.99,"hi":1},{"m":"1500","x":630,"x0":620,"x1":640,"y":1,"lo":0.768,"hi":1}
]
},
"concat":[
{"width":443,"height":266,"title":"CMS Preliminary","data":{"name":"p1"},
 "encoding":{
  "color":{"field":"m","type":"nominal","scale":{"domain":["0750","1000","1250","1500"],"range":["#ff3b3b","#3b3bff","#3bdc3b","#ff9a00"]},"legend":{"legendX":247,"legendY":202,"title":null,"labelExpr":"'Z→νν+Jets (noE̸T cut, Mjj>' + datum.label + ')'"}}},
 "layer":[
  {"mark":{"type":"rule","strokeWidth":1.5,"opacity":0.35},"encoding":{
    "x":{"field":"x","type":"quantitative","scale":{"domain":[0,466],"nice":false},"axis":{"orient":"bottom","values":[0,50,100,150,200,250,300,350,400,450],"format":"d","tickSize":-9,"labelPadding":12,"title":"E̸T (GeV)","titleFontSize":11,"titleAnchor":"end","titlePadding":1}},
    "y":{"field":"lo","type":"quantitative","scale":{"domain":[0,1.095],"nice":false},"axis":{"orient":"left","values":[0,0.2,0.4,0.6,0.8,1],"format":".1~f","tickSize":-10,"labelPadding":14,"title":"εPF-MJJ800-OR-CALO-MJJ700-OR-PF-MJJ800","titleFontSize":8,"titleAngle":270,"titleAlign":"right","titleAnchor":"end","titleX":-32,"titleY":0,"titleBaseline":"middle"}},
    "y2":{"field":"hi"}}},
  {"mark":{"type":"rule","strokeWidth":1.5,"opacity":0.35},"encoding":{
    "x":{"field":"x0","type":"quantitative","scale":{"domain":[0,466],"nice":false},"axis":{"orient":"top","values":[0,50,100,150,200,250,300,350,400,450],"tickSize":-9,"labels":false,"title":null}},
    "x2":{"field":"x1"},
    "y":{"field":"y","type":"quantitative","scale":{"domain":[0,1.095],"nice":false},"axis":{"orient":"right","values":[0,0.2,0.4,0.6,0.8,1],"tickSize":-10,"labels":false,"title":null}}}},
  {"mark":{"type":"point","filled":true,"size":26,"opacity":0.75},"encoding":{
    "shape":{"field":"m","type":"nominal","scale":{"domain":["0750","1000","1250","1500"],"range":["circle","square","triangle-up","triangle-down"]},"legend":{"legendX":247,"legendY":202,"title":null,"labelExpr":"'Z→νν+Jets (noE̸T cut, Mjj>' + datum.label + ')'"}},
    "x":{"field":"x","type":"quantitative","scale":{"domain":[0,466],"nice":false},"axis":{"orient":"bottom","values":[0,10,20,30,40,50,60,70,80,90,100,110,120,130,140,150,160,170,180,190,200,210,220,230,240,250,260,270,280,290,300,310,320,330,340,350,360,370,380,390,400,410,420,430,440,450,460],"tickSize":-5,"labels":false,"title":null}},
    "y":{"field":"y","type":"quantitative","scale":{"domain":[0,1.095],"nice":false},"axis":{"orient":"left","values":[0,0.05,0.1,0.15,0.2,0.25,0.3,0.35,0.4,0.45,0.5,0.55,0.6,0.65,0.7,0.75,0.8,0.85,0.9,0.95,1,1.05],"tickSize":-5,"labels":false,"title":null}}}},
  {"mark":{"type":"point","opacity":0,"size":1},"encoding":{
    "x":{"field":"x","type":"quantitative","scale":{"domain":[0,466],"nice":false},"axis":{"orient":"top","values":[0,10,20,30,40,50,60,70,80,90,100,110,120,130,140,150,160,170,180,190,200,210,220,230,240,250,260,270,280,290,300,310,320,330,340,350,360,370,380,390,400,410,420,430,440,450,460],"tickSize":-5,"labels":false,"title":null}},
    "y":{"field":"y","type":"quantitative","scale":{"domain":[0,1.095],"nice":false},"axis":{"orient":"right","values":[0,0.05,0.1,0.15,0.2,0.25,0.3,0.35,0.4,0.45,0.5,0.55,0.6,0.65,0.7,0.75,0.8,0.85,0.9,0.95,1,1.05],"tickSize":-5,"labels":false,"title":null}}}}
 ],
 "resolve":{"axis":{"x":"independent","y":"independent"}}},
{"width":443,"height":266,"title":"CMS Preliminary","data":{"name":"p2"},
 "encoding":{
  "color":{"field":"m","type":"nominal","scale":{"domain":["0750","1000","1250","1500"],"range":["#ff3b3b","#3b3bff","#3bdc3b","#ff9a00"]},"legend":{"legendX":247,"legendY":202,"title":null,"labelExpr":"'vbfDM_000 (noE̸T cut, Mjj>' + datum.label + ')'"}}},
 "layer":[
  {"mark":{"type":"rule","strokeWidth":1.5,"opacity":0.35},"encoding":{
    "x":{"field":"x","type":"quantitative","scale":{"domain":[0,622],"nice":false},"axis":{"orient":"bottom","values":[0,100,200,300,400,500,600],"format":"d","tickSize":-9,"labelPadding":12,"title":"E̸T (GeV)","titleFontSize":11,"titleAnchor":"end","titlePadding":1}},
    "y":{"field":"lo","type":"quantitative","scale":{"domain":[0,1.095],"nice":false},"axis":{"orient":"left","values":[0,0.2,0.4,0.6,0.8,1],"format":".1~f","tickSize":-10,"labelPadding":14,"title":"εPF-MJJ800-OR-CALO-MJJ700-OR-PF-MJJ800","titleFontSize":8,"titleAngle":270,"titleAlign":"right","titleAnchor":"end","titleX":-32,"titleY":0,"titleBaseline":"middle"}},
    "y2":{"field":"hi"}}},
  {"mark":{"type":"rule","strokeWidth":1.5,"opacity":0.35},"encoding":{
    "x":{"field":"x0","type":"quantitative","scale":{"domain":[0,622],"nice":false},"axis":{"orient":"top","values":[0,100,200,300,400,500,600],"tickSize":-9,"labels":false,"title":null}},
    "x2":{"field":"x1"},
    "y":{"field":"y","type":"quantitative","scale":{"domain":[0,1.095],"nice":false},"axis":{"orient":"right","values":[0,0.2,0.4,0.6,0.8,1],"tickSize":-10,"labels":false,"title":null}}}},
  {"mark":{"type":"point","filled":true,"size":26,"opacity":0.75},"encoding":{
    "shape":{"field":"m","type":"nominal","scale":{"domain":["0750","1000","1250","1500"],"range":["circle","square","triangle-up","triangle-down"]},"legend":{"legendX":247,"legendY":202,"title":null,"labelExpr":"'vbfDM_000 (noE̸T cut, Mjj>' + datum.label + ')'"}},
    "x":{"field":"x","type":"quantitative","scale":{"domain":[0,622],"nice":false},"axis":{"orient":"bottom","values":[0,20,40,60,80,100,120,140,160,180,200,220,240,260,280,300,320,340,360,380,400,420,440,460,480,500,520,540,560,580,600,620],"tickSize":-5,"labels":false,"title":null}},
    "y":{"field":"y","type":"quantitative","scale":{"domain":[0,1.095],"nice":false},"axis":{"orient":"left","values":[0,0.05,0.1,0.15,0.2,0.25,0.3,0.35,0.4,0.45,0.5,0.55,0.6,0.65,0.7,0.75,0.8,0.85,0.9,0.95,1,1.05],"tickSize":-5,"labels":false,"title":null}}}},
  {"mark":{"type":"point","opacity":0,"size":1},"encoding":{
    "x":{"field":"x","type":"quantitative","scale":{"domain":[0,622],"nice":false},"axis":{"orient":"top","values":[0,20,40,60,80,100,120,140,160,180,200,220,240,260,280,300,320,340,360,380,400,420,440,460,480,500,520,540,560,580,600,620],"tickSize":-5,"labels":false,"title":null}},
    "y":{"field":"y","type":"quantitative","scale":{"domain":[0,1.095],"nice":false},"axis":{"orient":"right","values":[0,0.05,0.1,0.15,0.2,0.25,0.3,0.35,0.4,0.45,0.5,0.55,0.6,0.65,0.7,0.75,0.8,0.85,0.9,0.95,1,1.05],"tickSize":-5,"labels":false,"title":null}}}}
 ],
 "resolve":{"axis":{"x":"independent","y":"independent"}}},
{"width":443,"height":266,"title":"CMS Preliminary","data":{"name":"p3"},
 "encoding":{
  "color":{"field":"m","type":"nominal","scale":{"domain":["0750","1000","1250","1500"],"range":["#ff3b3b","#3b3bff","#3bdc3b","#ff9a00"]},"legend":{"legendX":247,"legendY":202,"title":null,"labelExpr":"'vbfDM_050 (noE̸T cut, Mjj>' + datum.label + ')'"}}},
 "layer":[
  {"mark":{"type":"rule","strokeWidth":1.5,"opacity":0.35},"encoding":{
    "x":{"field":"x","type":"quantitative","scale":{"domain":[0,1005],"nice":false},"axis":{"orient":"bottom","values":[0,200,400,600,800,1000],"format":"d","tickSize":-9,"labelPadding":12,"title":"E̸T (GeV)","titleFontSize":11,"titleAnchor":"end","titlePadding":1}},
    "y":{"field":"lo","type":"quantitative","scale":{"domain":[0,1.095],"nice":false},"axis":{"orient":"left","values":[0,0.2,0.4,0.6,0.8,1],"format":".1~f","tickSize":-10,"labelPadding":14,"title":"εPF-MJJ800-OR-CALO-MJJ700-OR-PF-MJJ800","titleFontSize":8,"titleAngle":270,"titleAlign":"right","titleAnchor":"end","titleX":-32,"titleY":0,"titleBaseline":"middle"}},
    "y2":{"field":"hi"}}},
  {"mark":{"type":"rule","strokeWidth":1.5,"opacity":0.35},"encoding":{
    "x":{"field":"x0","type":"quantitative","scale":{"domain":[0,1005],"nice":false},"axis":{"orient":"top","values":[0,200,400,600,800,1000],"tickSize":-9,"labels":false,"title":null}},
    "x2":{"field":"x1"},
    "y":{"field":"y","type":"quantitative","scale":{"domain":[0,1.095],"nice":false},"axis":{"orient":"right","values":[0,0.2,0.4,0.6,0.8,1],"tickSize":-10,"labels":false,"title":null}}}},
  {"mark":{"type":"point","filled":true,"size":26,"opacity":0.75},"encoding":{
    "shape":{"field":"m","type":"nominal","scale":{"domain":["0750","1000","1250","1500"],"range":["circle","square","triangle-up","triangle-down"]},"legend":{"legendX":247,"legendY":202,"title":null,"labelExpr":"'vbfDM_050 (noE̸T cut, Mjj>' + datum.label + ')'"}},
    "x":{"field":"x","type":"quantitative","scale":{"domain":[0,1005],"nice":false},"axis":{"orient":"bottom","values":[0,40,80,120,160,200,240,280,320,360,400,440,480,520,560,600,640,680,720,760,800,840,880,920,960,1000],"tickSize":-5,"labels":false,"title":null}},
    "y":{"field":"y","type":"quantitative","scale":{"domain":[0,1.095],"nice":false},"axis":{"orient":"left","values":[0,0.05,0.1,0.15,0.2,0.25,0.3,0.35,0.4,0.45,0.5,0.55,0.6,0.65,0.7,0.75,0.8,0.85,0.9,0.95,1,1.05],"tickSize":-5,"labels":false,"title":null}}}},
  {"mark":{"type":"point","opacity":0,"size":1},"encoding":{
    "x":{"field":"x","type":"quantitative","scale":{"domain":[0,1005],"nice":false},"axis":{"orient":"top","values":[0,40,80,120,160,200,240,280,320,360,400,440,480,520,560,600,640,680,720,760,800,840,880,920,960,1000],"tickSize":-5,"labels":false,"title":null}},
    "y":{"field":"y","type":"quantitative","scale":{"domain":[0,1.095],"nice":false},"axis":{"orient":"right","values":[0,0.05,0.1,0.15,0.2,0.25,0.3,0.35,0.4,0.45,0.5,0.55,0.6,0.65,0.7,0.75,0.8,0.85,0.9,0.95,1,1.05],"tickSize":-5,"labels":false,"title":null}}}}
 ],
 "resolve":{"axis":{"x":"independent","y":"independent"}}},
{"width":443,"height":266,"title":"CMS Preliminary","data":{"name":"p4"},
 "encoding":{
  "color":{"field":"m","type":"nominal","scale":{"domain":["0750","1000","1250","1500"],"range":["#ff3b3b","#3b3bff","#3bdc3b","#ff9a00"]},"legend":{"legendX":247,"legendY":202,"title":null,"labelExpr":"'vbfDM_100 (noE̸T cut, Mjj>' + datum.label + ')'"}}},
 "layer":[
  {"mark":{"type":"rule","strokeWidth":1.5,"opacity":0.35},"encoding":{
    "x":{"field":"x","type":"quantitative","scale":{"domain":[0,709],"nice":false},"axis":{"orient":"bottom","values":[0,100,200,300,400,500,600,700],"format":"d","tickSize":-9,"labelPadding":12,"title":"E̸T (GeV)","titleFontSize":11,"titleAnchor":"end","titlePadding":1}},
    "y":{"field":"lo","type":"quantitative","scale":{"domain":[0,1.095],"nice":false},"axis":{"orient":"left","values":[0,0.2,0.4,0.6,0.8,1],"format":".1~f","tickSize":-10,"labelPadding":14,"title":"εPF-MJJ800-OR-CALO-MJJ700-OR-PF-MJJ800","titleFontSize":8,"titleAngle":270,"titleAlign":"right","titleAnchor":"end","titleX":-32,"titleY":0,"titleBaseline":"middle"}},
    "y2":{"field":"hi"}}},
  {"mark":{"type":"rule","strokeWidth":1.5,"opacity":0.35},"encoding":{
    "x":{"field":"x0","type":"quantitative","scale":{"domain":[0,709],"nice":false},"axis":{"orient":"top","values":[0,100,200,300,400,500,600,700],"tickSize":-9,"labels":false,"title":null}},
    "x2":{"field":"x1"},
    "y":{"field":"y","type":"quantitative","scale":{"domain":[0,1.095],"nice":false},"axis":{"orient":"right","values":[0,0.2,0.4,0.6,0.8,1],"tickSize":-10,"labels":false,"title":null}}}},
  {"mark":{"type":"point","filled":true,"size":26,"opacity":0.75},"encoding":{
    "shape":{"field":"m","type":"nominal","scale":{"domain":["0750","1000","1250","1500"],"range":["circle","square","triangle-up","triangle-down"]},"legend":{"legendX":247,"legendY":202,"title":null,"labelExpr":"'vbfDM_100 (noE̸T cut, Mjj>' + datum.label + ')'"}},
    "x":{"field":"x","type":"quantitative","scale":{"domain":[0,709],"nice":false},"axis":{"orient":"bottom","values":[0,20,40,60,80,100,120,140,160,180,200,220,240,260,280,300,320,340,360,380,400,420,440,460,480,500,520,540,560,580,600,620,640,660,680,700],"tickSize":-5,"labels":false,"title":null}},
    "y":{"field":"y","type":"quantitative","scale":{"domain":[0,1.095],"nice":false},"axis":{"orient":"left","values":[0,0.05,0.1,0.15,0.2,0.25,0.3,0.35,0.4,0.45,0.5,0.55,0.6,0.65,0.7,0.75,0.8,0.85,0.9,0.95,1,1.05],"tickSize":-5,"labels":false,"title":null}}}},
  {"mark":{"type":"point","opacity":0,"size":1},"encoding":{
    "x":{"field":"x","type":"quantitative","scale":{"domain":[0,709],"nice":false},"axis":{"orient":"top","values":[0,20,40,60,80,100,120,140,160,180,200,220,240,260,280,300,320,340,360,380,400,420,440,460,480,500,520,540,560,580,600,620,640,660,680,700],"tickSize":-5,"labels":false,"title":null}},
    "y":{"field":"y","type":"quantitative","scale":{"domain":[0,1.095],"nice":false},"axis":{"orient":"right","values":[0,0.05,0.1,0.15,0.2,0.25,0.3,0.35,0.4,0.45,0.5,0.55,0.6,0.65,0.7,0.75,0.8,0.85,0.9,0.95,1,1.05],"tickSize":-5,"labels":false,"title":null}}}}
 ],
 "resolve":{"axis":{"x":"independent","y":"independent"}}}
],
"columns":2,
"spacing":{"row":70,"column":117},
"bounds":"flush",
"resolve":{"scale":{"x":"independent","y":"independent","color":"independent","shape":"independent"},"legend":{"color":"independent","shape":"independent"}}
}
